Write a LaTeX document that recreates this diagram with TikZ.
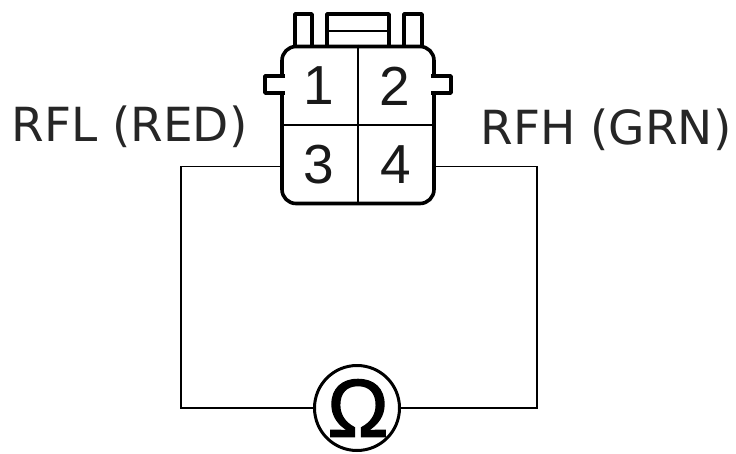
\documentclass[tikz,border=0pt]{standalone}
\usepackage{fontspec}
\setmainfont{DejaVu Sans}
\newfontfamily\pinfont{Liberation Sans}
\newfontfamily\ohmfont[FakeBold=1.6]{Liberation Sans}
\tikzset{
  housing/.style={line width=3.6pt, line join=round},
  wire/.style={line width=1.3pt},
  pin/.style={font=\pinfont\fontsize{55}{55}\selectfont, inner sep=0pt, text=black!90},
  wirelabel/.style={font=\fontsize{47}{50}\selectfont, inner sep=0pt, text=black!85},
}
\begin{document}
\begin{tikzpicture}[x=1pt,y=-1pt]
  \useasboundingbox (0,0) rectangle (736,453);
  % latches, behind the body
  \draw[housing] (295,48) -- (295,14) -- (312,14) -- (312,48);
  \draw[housing] (404,48) -- (404,14) -- (422,14) -- (422,48);
  \draw[housing] (327,48) -- (327,14) -- (389,14) -- (389,48);
  \draw[line width=1.3pt] (327,31) -- (389,31);
  % body
  \node (body) at (358,125) [draw, fill=white, housing, rounded corners=14pt,
    minimum width=152pt, minimum height=157pt] {};
  \draw[line width=1.3pt] (body.north) -- (body.south);
  \draw[line width=1.3pt] (body.west) -- (body.east);
  % side ears, open into the body
  \draw[housing, fill=white] (285,76) -- (265,76) -- (265,93) -- (285,93);
  \draw[housing, fill=white] (431,76) -- (451,76) -- (451,93) -- (431,93);
  \node (1) at (319,86) [pin] {1};
  \node (2) at (395,86) [pin] {2};
  \node (3) at (319,165) [pin] {3};
  \node (4) at (396,165) [pin] {4};
  \node (rfl) at (129.5,127) [wirelabel] {RFL (RED)};
  \node (rfh) at (606,130) [wirelabel] {RFH (GRN)};
  % meter and leads
  \node (meter) at (357,408) [circle, draw, line width=3pt, minimum size=85pt, inner sep=0pt] {};
  \node (ohm) at (358,408) [font=\ohmfont\fontsize{82}{82}\selectfont, inner sep=0pt] {Ω};
  \coordinate (leadl) at (body.west |- 0,166.5);
  \coordinate (leadr) at (body.east |- 0,166.5);
  \coordinate (cornerl) at (181,166.5);
  \coordinate (cornerr) at (537,166.5);
  \draw[wire] (leadl) -- (cornerl) |- (meter);
  \draw[wire] (leadr) -- (cornerr) |- (meter);
\end{tikzpicture}
\end{document}
